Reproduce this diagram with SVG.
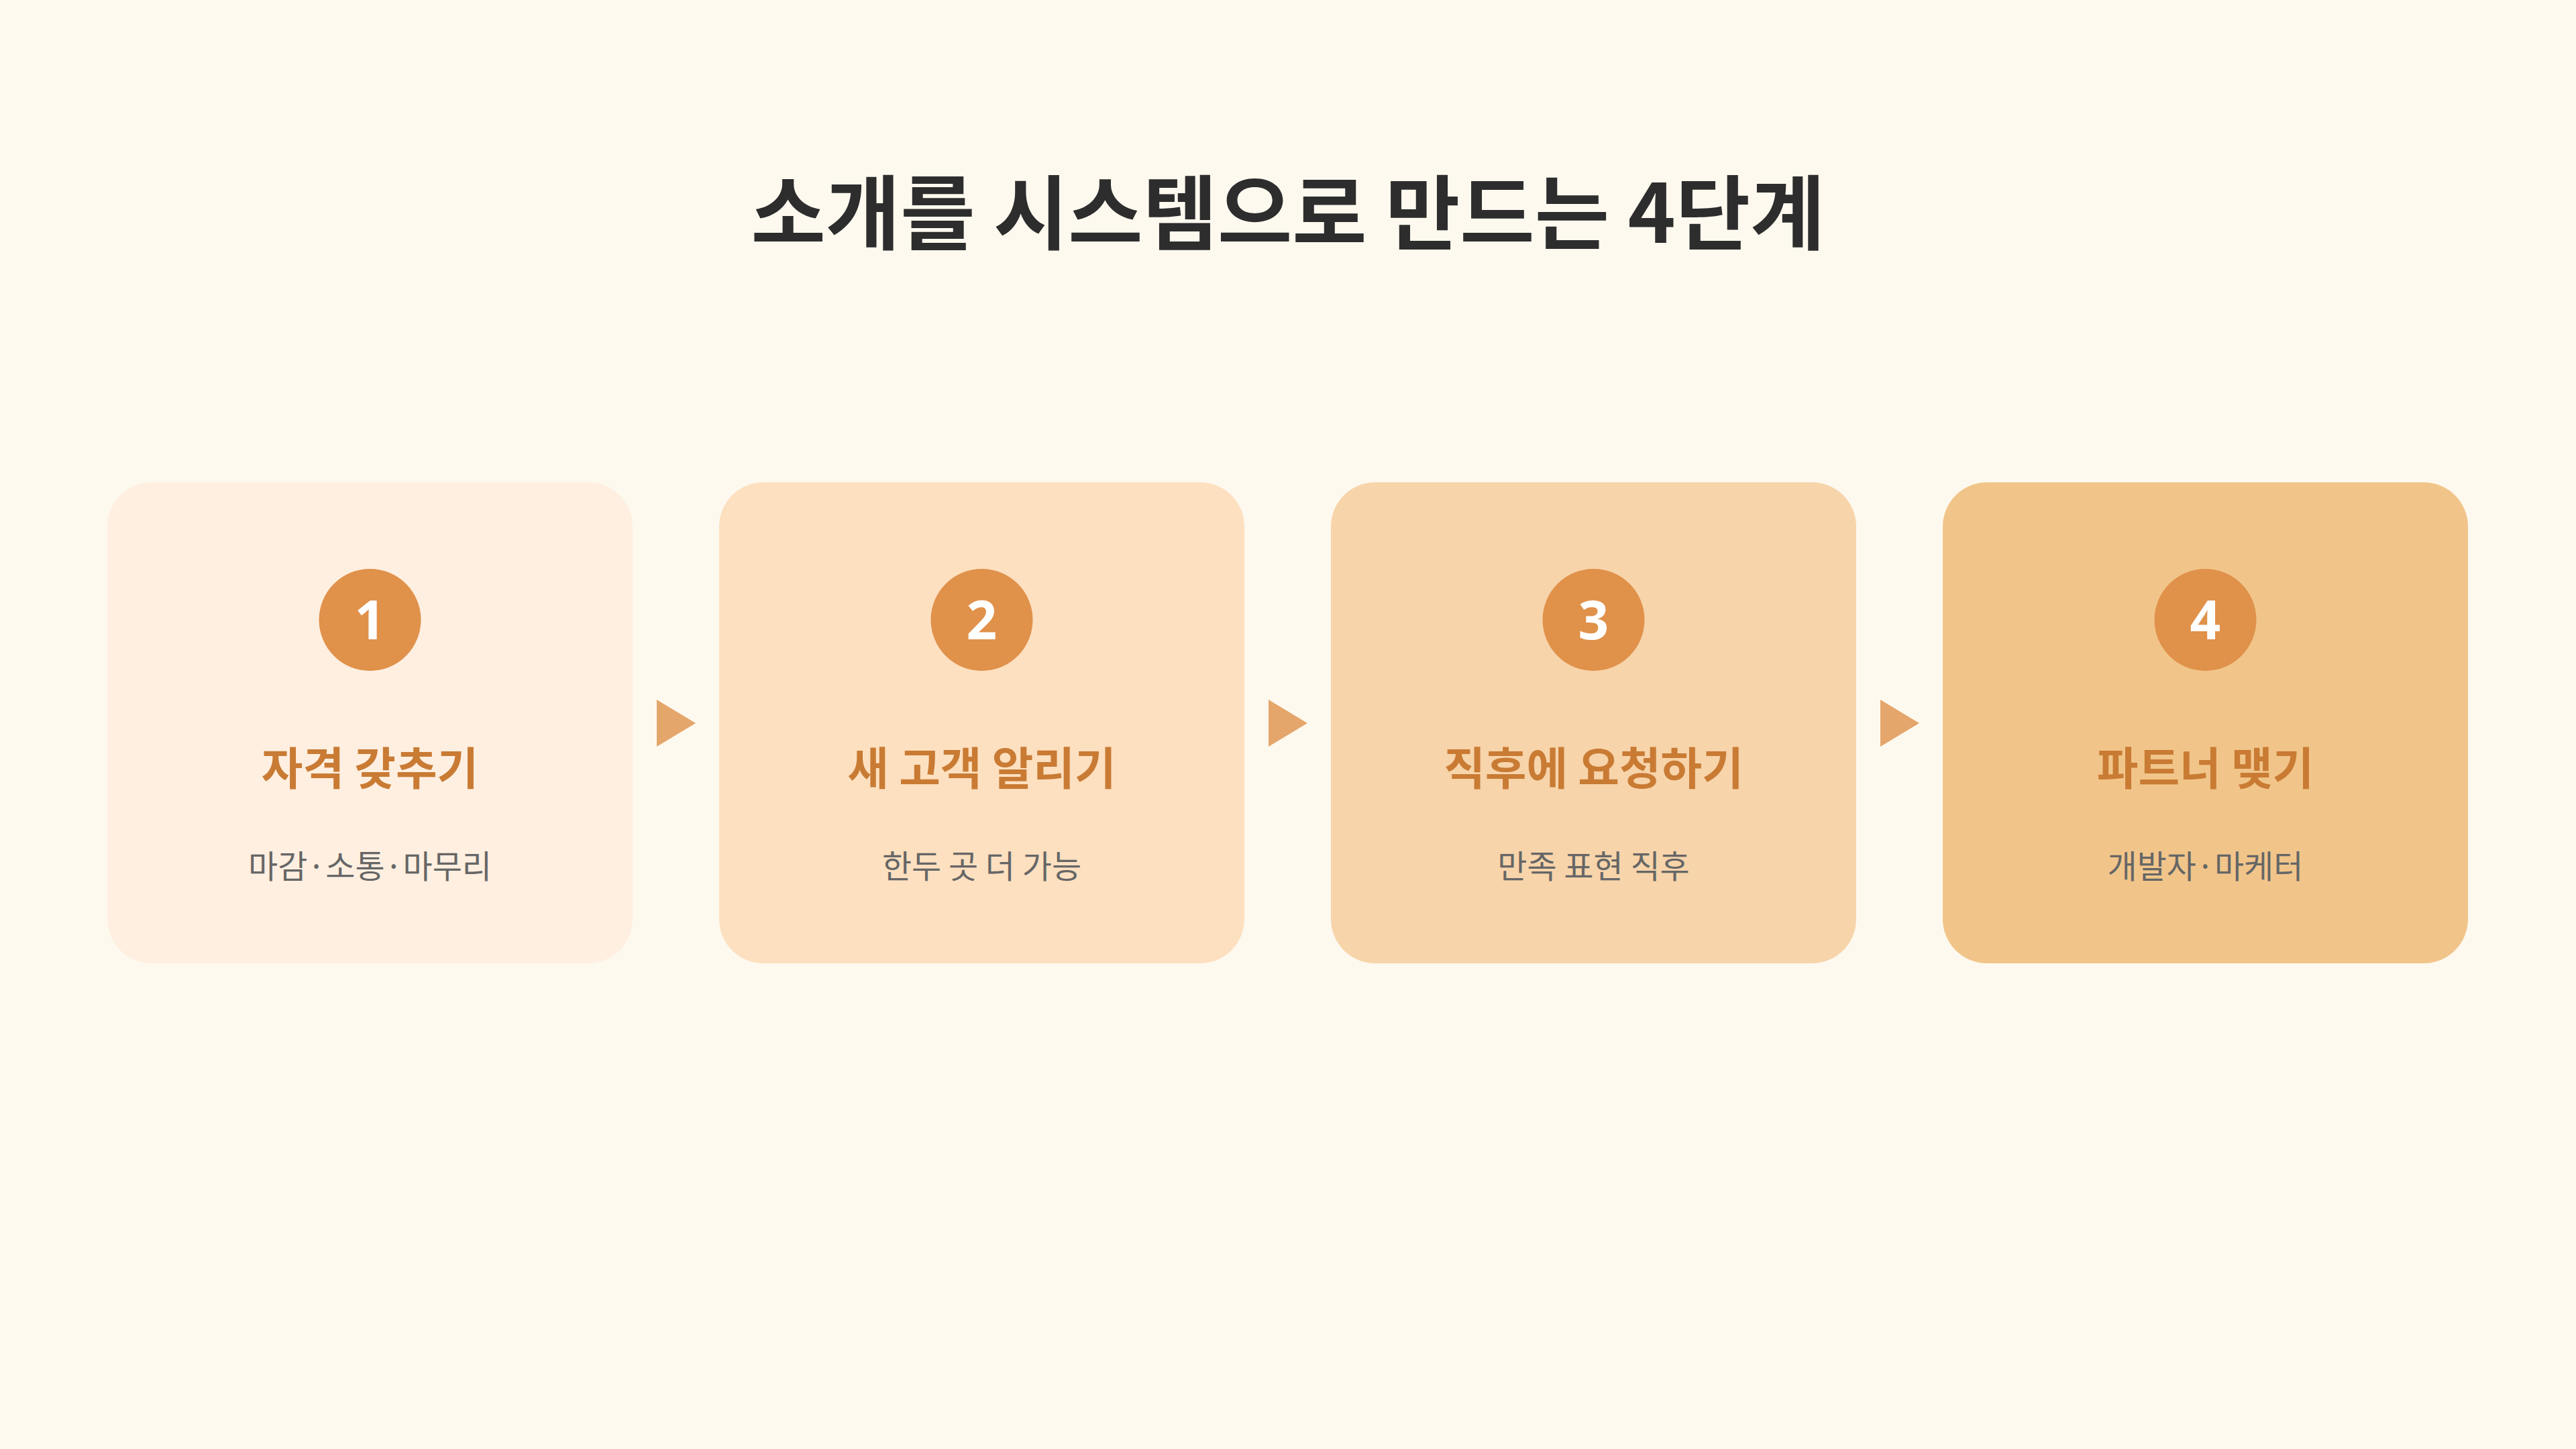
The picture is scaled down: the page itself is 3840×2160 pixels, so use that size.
<svg xmlns="http://www.w3.org/2000/svg" width="3840" height="2160" viewBox="0 0 3840 2160">
<style>
.title{font-family:"Noto Sans CJK KR","Noto Sans",sans-serif;font-weight:700;font-size:121px;fill:#2d2d2d;text-anchor:middle}
.num{font-family:"Noto Sans","Noto Sans CJK KR",sans-serif;font-weight:700;font-size:80px;fill:#ffffff;text-anchor:middle}
.step{font-family:"Noto Sans CJK KR",sans-serif;font-weight:700;font-size:67px;fill:#c97b34;text-anchor:middle}
.sub{font-family:"Noto Sans CJK KR",sans-serif;font-weight:400;font-size:48px;fill:#666666;text-anchor:middle}
.badge{fill:#e0914a}
.arrow{fill:#e5a66b}
</style>
<rect width="3840" height="2160" fill="#fef9ef"/>
<text class="title" x="1920" y="362">소개를 시스템으로 만드는 4단계</text>
<g id="connectors">
<polygon class="arrow" points="979,1043 1037,1078 979,1113"/>
<polygon class="arrow" points="1891,1043 1949,1078 1891,1113"/>
<polygon class="arrow" points="2803,1043 2861,1078 2803,1113"/>
</g>
<g id="step1">
<rect x="160" y="719" width="783" height="717" rx="66" fill="#ffefe0"/>
<circle class="badge" cx="551.5" cy="924" r="76"/>
<text class="num" x="551.5" y="953">1</text>
<text class="step" x="551.5" y="1170">자격 갖추기</text>
<text class="sub" x="551.5" y="1309">마감·소통·마무리</text>
</g>
<g id="step2">
<rect x="1072" y="719" width="783" height="717" rx="66" fill="#fde0c0"/>
<circle class="badge" cx="1463.5" cy="924" r="76"/>
<text class="num" x="1463.5" y="953">2</text>
<text class="step" x="1463.5" y="1170">새 고객 알리기</text>
<text class="sub" x="1463.5" y="1309">한두 곳 더 가능</text>
</g>
<g id="step3">
<rect x="1984" y="719" width="783" height="717" rx="66" fill="#f7d4aa"/>
<circle class="badge" cx="2375.5" cy="924" r="76"/>
<text class="num" x="2375.5" y="953">3</text>
<text class="step" x="2375.5" y="1170">직후에 요청하기</text>
<text class="sub" x="2375.5" y="1309">만족 표현 직후</text>
</g>
<g id="step4">
<rect x="2896" y="719" width="783" height="717" rx="66" fill="#f1c58a"/>
<circle class="badge" cx="3287.5" cy="924" r="76"/>
<text class="num" x="3287.5" y="953">4</text>
<text class="step" x="3287.5" y="1170">파트너 맺기</text>
<text class="sub" x="3287.5" y="1309">개발자·마케터</text>
</g>
</svg>
